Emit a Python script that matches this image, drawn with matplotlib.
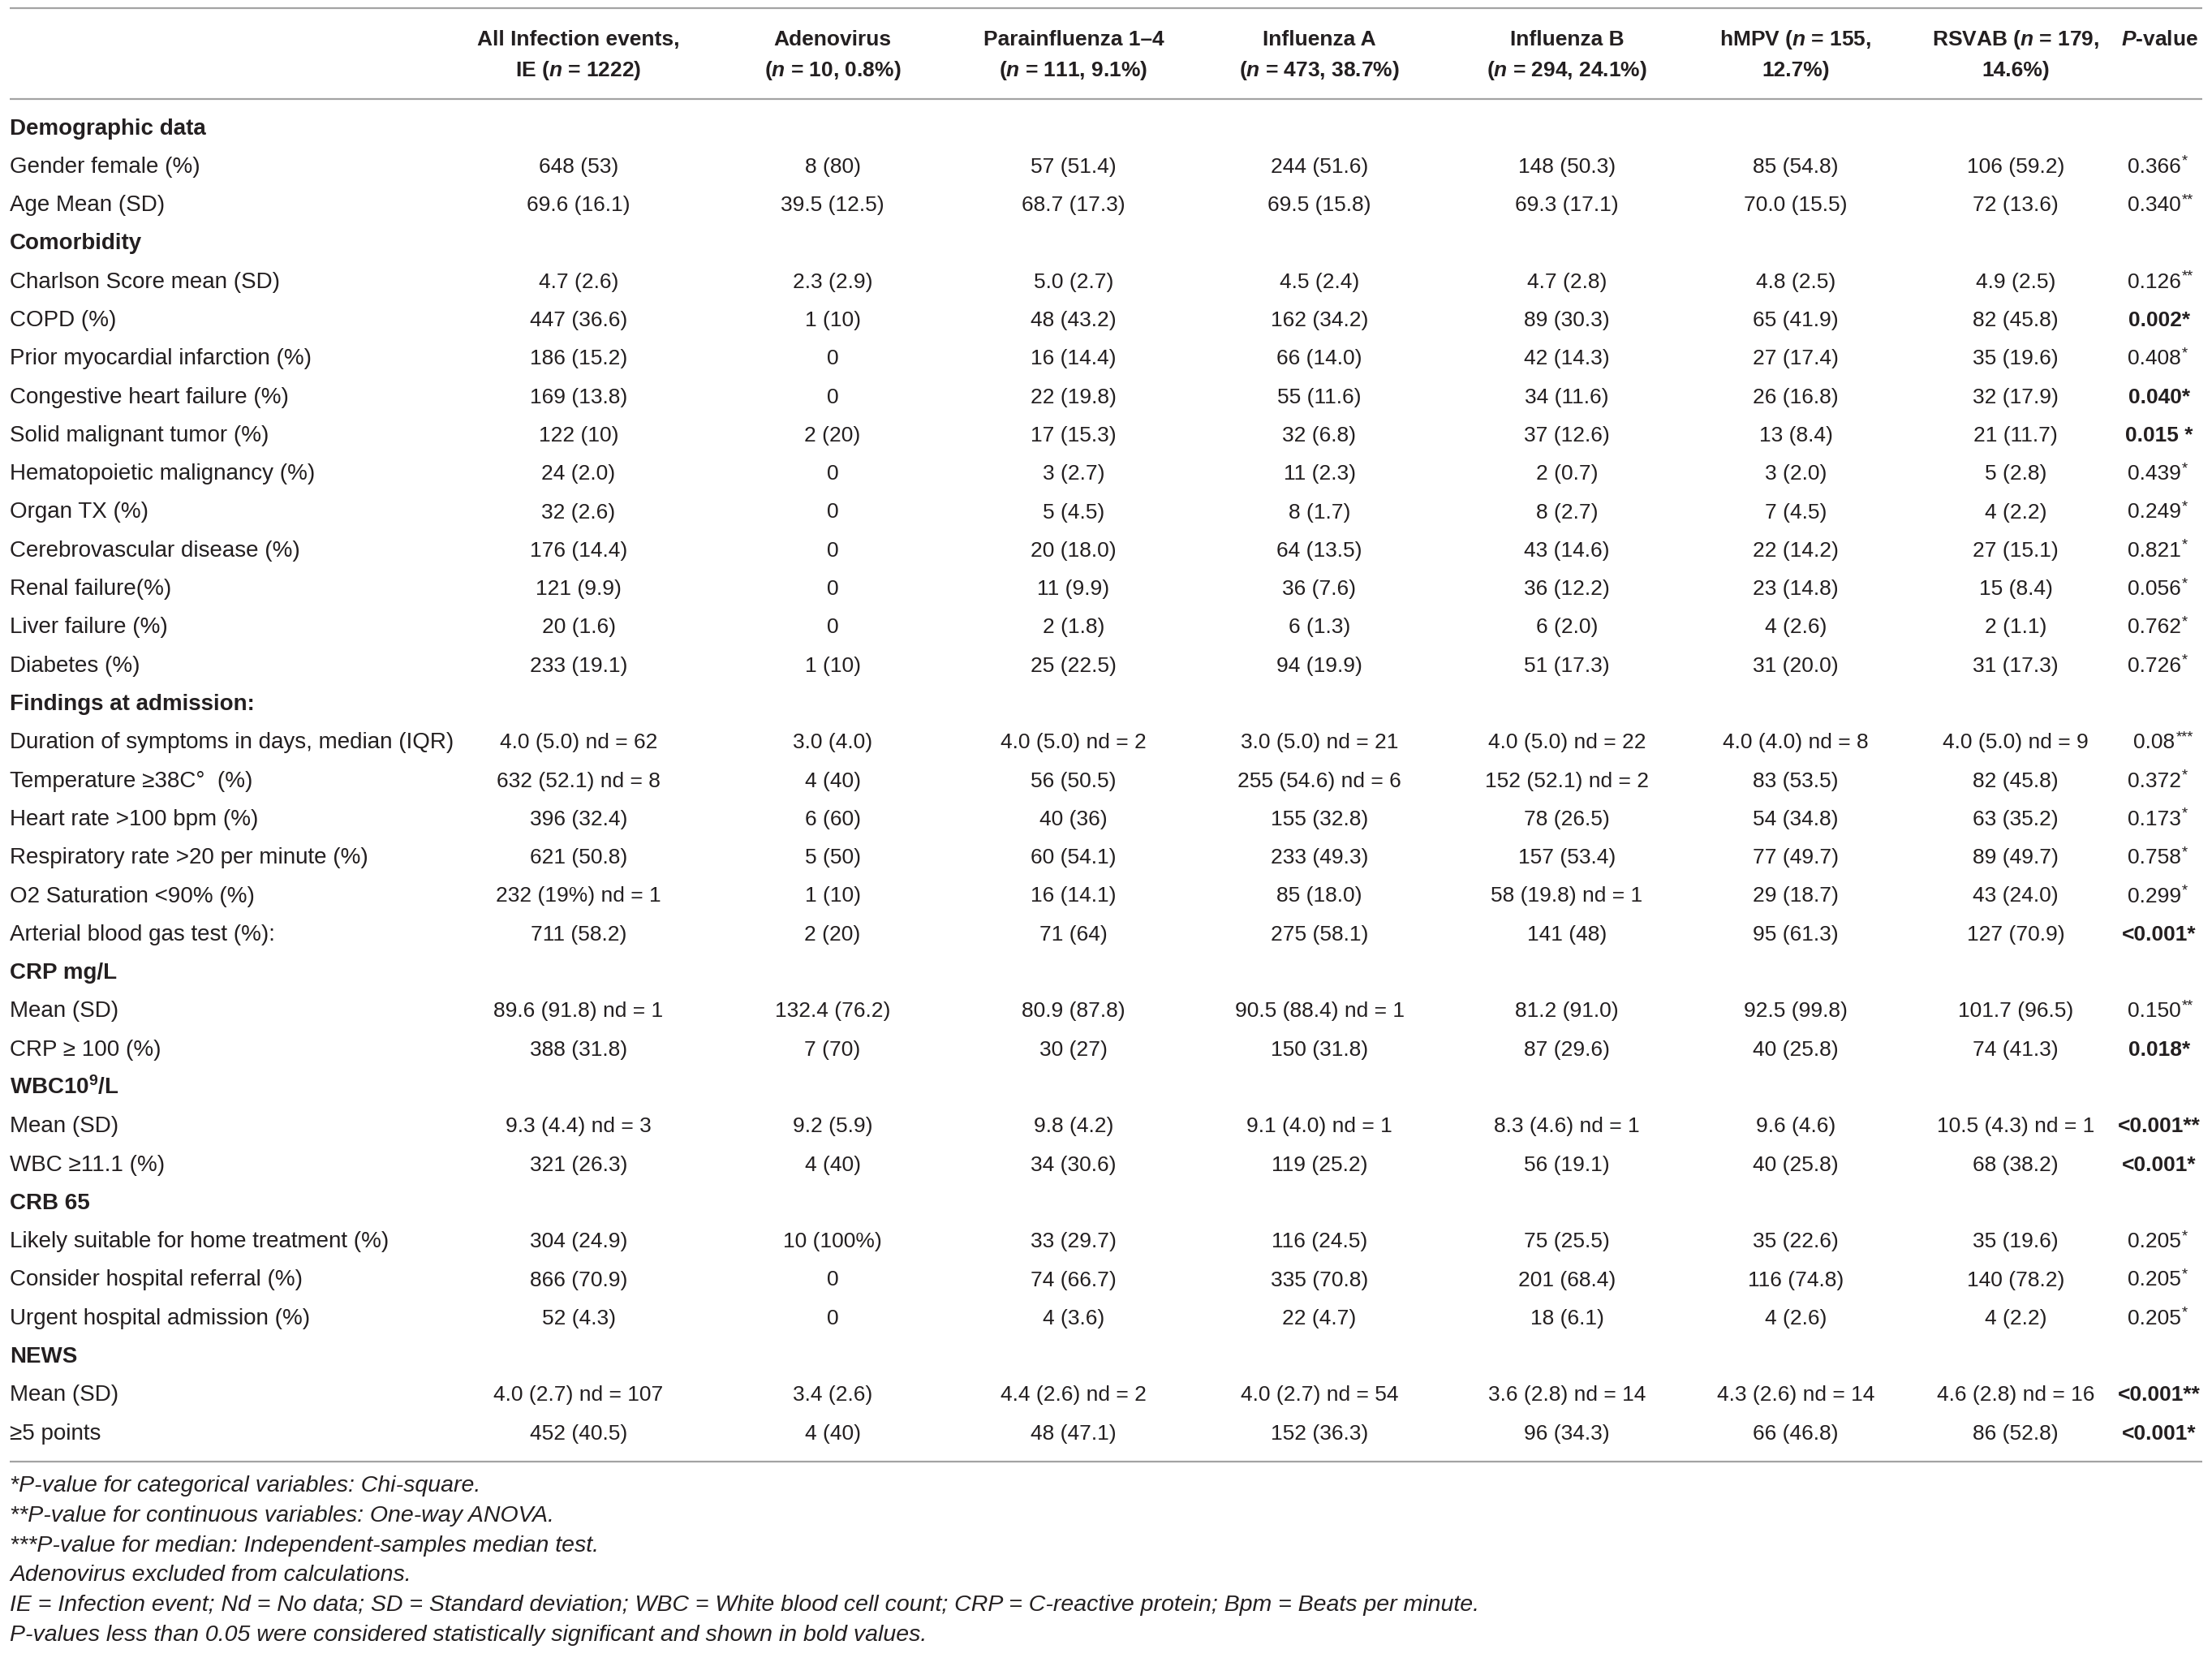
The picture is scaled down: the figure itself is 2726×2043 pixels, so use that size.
"""Recreate the respiratory virus characteristics table as a figure."""

import matplotlib
matplotlib.use('Agg')
import matplotlib.pyplot as plt

plt.rcParams['font.family'] = ['Liberation Sans', 'DejaVu Sans']
plt.rcParams['mathtext.fontset'] = 'custom'
plt.rcParams['mathtext.rm'] = 'Liberation Sans:bold'
plt.rcParams['mathtext.it'] = 'Liberation Sans:bold:italic'
plt.rcParams['mathtext.bf'] = 'Liberation Sans:bold'

# column headers (two lines each)
headers = [
    ('All Infection events,', 'IE ($n$ = 1222)'),
    ('Adenovirus', '($n$ = 10, 0.8%)'),
    ('Parainfluenza 1\u20134', '($n$ = 111, 9.1%)'),
    ('Influenza A', '($n$ = 473, 38.7%)'),
    ('Influenza B', '($n$ = 294, 24.1%)'),
    ('hMPV ($n$ = 155,', '12.7%)'),
    ('RSVAB ($n$ = 179,', '14.6%)'),
    ('$P$-value', ''),
]

# sections and number of data rows in each
sections = ['Demographic data', 'Comorbidity', 'Findings at admission:',
            'CRP mg/L', 'WBC10$^{9}$/L', 'CRB 65', 'NEWS']
section_sizes = [2, 11, 6, 2, 2, 3, 2]

row_labels = [
    'Gender female (%)', 'Age Mean (SD)',
    'Charlson Score mean (SD)', 'COPD (%)', 'Prior myocardial infarction (%)',
    'Congestive heart failure (%)', 'Solid malignant tumor (%)',
    'Hematopoietic malignancy (%)', 'Organ TX (%)', 'Cerebrovascular disease (%)',
    'Renal failure(%)', 'Liver failure (%)', 'Diabetes (%)',
    'Duration of symptoms in days, median (IQR)', 'Temperature \u226538C\u00b0  (%)',
    'Heart rate >100 bpm (%)', 'Respiratory rate >20 per minute (%)',
    'O2 Saturation <90% (%)', 'Arterial blood gas test (%):',
    'Mean (SD)', 'CRP \u2265 100 (%)',
    'Mean (SD)', 'WBC \u226511.1 (%)',
    'Likely suitable for home treatment (%)', 'Consider hospital referral (%)',
    'Urgent hospital admission (%)',
    'Mean (SD)', '\u22655 points',
]

all_ie = ['648 (53)', '69.6 (16.1)', '4.7 (2.6)', '447 (36.6)', '186 (15.2)',
          '169 (13.8)', '122 (10)', '24 (2.0)', '32 (2.6)', '176 (14.4)',
          '121 (9.9)', '20 (1.6)', '233 (19.1)', '4.0 (5.0) nd = 62',
          '632 (52.1) nd = 8', '396 (32.4)', '621 (50.8)', '232 (19%) nd = 1',
          '711 (58.2)', '89.6 (91.8) nd = 1', '388 (31.8)', '9.3 (4.4) nd = 3',
          '321 (26.3)', '304 (24.9)', '866 (70.9)', '52 (4.3)',
          '4.0 (2.7) nd = 107', '452 (40.5)']
adeno = ['8 (80)', '39.5 (12.5)', '2.3 (2.9)', '1 (10)', '0', '0', '2 (20)',
         '0', '0', '0', '0', '0', '1 (10)', '3.0 (4.0)', '4 (40)', '6 (60)',
         '5 (50)', '1 (10)', '2 (20)', '132.4 (76.2)', '7 (70)', '9.2 (5.9)',
         '4 (40)', '10 (100%)', '0', '0', '3.4 (2.6)', '4 (40)']
parainf = ['57 (51.4)', '68.7 (17.3)', '5.0 (2.7)', '48 (43.2)', '16 (14.4)',
           '22 (19.8)', '17 (15.3)', '3 (2.7)', '5 (4.5)', '20 (18.0)',
           '11 (9.9)', '2 (1.8)', '25 (22.5)', '4.0 (5.0) nd = 2', '56 (50.5)',
           '40 (36)', '60 (54.1)', '16 (14.1)', '71 (64)', '80.9 (87.8)',
           '30 (27)', '9.8 (4.2)', '34 (30.6)', '33 (29.7)', '74 (66.7)',
           '4 (3.6)', '4.4 (2.6) nd = 2', '48 (47.1)']
infl_a = ['244 (51.6)', '69.5 (15.8)', '4.5 (2.4)', '162 (34.2)', '66 (14.0)',
          '55 (11.6)', '32 (6.8)', '11 (2.3)', '8 (1.7)', '64 (13.5)',
          '36 (7.6)', '6 (1.3)', '94 (19.9)', '3.0 (5.0) nd = 21',
          '255 (54.6) nd = 6', '155 (32.8)', '233 (49.3)', '85 (18.0)',
          '275 (58.1)', '90.5 (88.4) nd = 1', '150 (31.8)', '9.1 (4.0) nd = 1',
          '119 (25.2)', '116 (24.5)', '335 (70.8)', '22 (4.7)',
          '4.0 (2.7) nd = 54', '152 (36.3)']
infl_b = ['148 (50.3)', '69.3 (17.1)', '4.7 (2.8)', '89 (30.3)', '42 (14.3)',
          '34 (11.6)', '37 (12.6)', '2 (0.7)', '8 (2.7)', '43 (14.6)',
          '36 (12.2)', '6 (2.0)', '51 (17.3)', '4.0 (5.0) nd = 22',
          '152 (52.1) nd = 2', '78 (26.5)', '157 (53.4)', '58 (19.8) nd = 1',
          '141 (48)', '81.2 (91.0)', '87 (29.6)', '8.3 (4.6) nd = 1',
          '56 (19.1)', '75 (25.5)', '201 (68.4)', '18 (6.1)',
          '3.6 (2.8) nd = 14', '96 (34.3)']
hmpv = ['85 (54.8)', '70.0 (15.5)', '4.8 (2.5)', '65 (41.9)', '27 (17.4)',
        '26 (16.8)', '13 (8.4)', '3 (2.0)', '7 (4.5)', '22 (14.2)', '23 (14.8)',
        '4 (2.6)', '31 (20.0)', '4.0 (4.0) nd = 8', '83 (53.5)', '54 (34.8)',
        '77 (49.7)', '29 (18.7)', '95 (61.3)', '92.5 (99.8)', '40 (25.8)',
        '9.6 (4.6)', '40 (25.8)', '35 (22.6)', '116 (74.8)', '4 (2.6)',
        '4.3 (2.6) nd = 14', '66 (46.8)']
rsvab = ['106 (59.2)', '72 (13.6)', '4.9 (2.5)', '82 (45.8)', '35 (19.6)',
         '32 (17.9)', '21 (11.7)', '5 (2.8)', '4 (2.2)', '27 (15.1)', '15 (8.4)',
         '2 (1.1)', '31 (17.3)', '4.0 (5.0) nd = 9', '82 (45.8)', '63 (35.2)',
         '89 (49.7)', '43 (24.0)', '127 (70.9)', '101.7 (96.5)', '74 (41.3)',
         '10.5 (4.3) nd = 1', '68 (38.2)', '35 (19.6)', '140 (78.2)', '4 (2.2)',
         '4.6 (2.8) nd = 16', '86 (52.8)']

p_values = ['0.366', '0.340', '0.126', '0.002', '0.408', '0.040', '0.015 ',
            '0.439', '0.249', '0.821', '0.056', '0.762', '0.726', '0.08',
            '0.372', '0.173', '0.758', '0.299', '<0.001', '0.150', '0.018',
            '<0.001', '<0.001', '0.205', '0.205', '0.205', '<0.001', '<0.001']
p_stars = ['*', '**', '**', '*', '*', '*', '*', '*', '*', '*', '*', '*', '*',
           '***', '*', '*', '*', '*', '*', '**', '*', '**', '*', '*', '*', '*',
           '**', '*']
p_bold = [False, False, False, True, False, True, True, False, False, False,
          False, False, False, False, False, False, False, False, True, False,
          True, True, True, False, False, False, True, True]

footnotes = [
    '*P-value for categorical variables: Chi-square.',
    '**P-value for continuous variables: One-way ANOVA.',
    '***P-value for median: Independent-samples median test.',
    'Adenovirus excluded from calculations.',
    'IE = Infection event; Nd = No data; SD = Standard deviation; WBC = White blood cell count; '
    'CRP = C-reactive protein; Bpm = Beats per minute.',
    'P-values less than 0.05 were considered statistically significant and shown in bold values.',
]

W, H = 2726, 2043
TXT = '#231f20'
LINE = '#a3a3a3'
FS = 19        # numbers and headers
FS_LAB = 20    # row labels
FS_NOTE = 20.5

col_x = [713, 1026, 1323, 1626, 1931, 2213, 2484, 2661]
columns = [all_ie, adeno, parainf, infl_a, infl_b, hmpv, rsvab]

fig = plt.figure(figsize=(W / 100, H / 100), dpi=100)
ax = fig.add_axes([0, 0, 1, 1])
ax.set_xlim(0, W)
ax.set_ylim(H, 0)
ax.axis('off')
renderer = fig.canvas.get_renderer()

left, right = 12, 2714
base = 9  # baseline offset from row centre

for y in (10, 122, 1801):
    ax.plot([left, right], [y, y], color=LINE, lw=1.6, solid_capstyle='butt')

# header
for x, (l1, l2) in zip(col_x, headers):
    ax.text(x, 47 + base, l1, ha='center', va='baseline', fontsize=FS,
            fontweight='bold', color=TXT)
    if l2:
        ax.text(x, 85 + base, l2, ha='center', va='baseline', fontsize=FS,
                fontweight='bold', color=TXT)

# body
y0, dy = 156.5, 47.3
row = 0
k = 0
for sec, n in zip(sections, section_sizes):
    y = y0 + row * dy
    ax.text(left, y + base, sec, ha='left', va='baseline', fontsize=FS_LAB,
            fontweight='bold', color=TXT)
    row += 1
    for _ in range(n):
        y = y0 + row * dy
        ax.text(left, y + base, row_labels[k], ha='left', va='baseline',
                fontsize=FS_LAB, color=TXT)
        for x, col in zip(col_x, columns):
            ax.text(x, y + base, col[k], ha='center', va='baseline',
                    fontsize=FS, color=TXT)
        # p-value with stars
        if p_bold[k]:
            ax.text(col_x[-1], y + base, p_values[k] + p_stars[k], ha='center',
                    va='baseline', fontsize=FS, fontweight='bold', color=TXT)
        else:
            t = ax.text(col_x[-1] - 6, y + base, p_values[k], ha='center',
                        va='baseline', fontsize=FS, color=TXT)
            bb = t.get_window_extent(renderer)
            ax.text(bb.x1 + 1, y + base - 9, p_stars[k], ha='left',
                    va='baseline', fontsize=FS * 0.7, color=TXT)
        row += 1
        k += 1

# footnotes
for i, note in enumerate(footnotes):
    ax.text(left, 1829 + i * 36.8 + base, note, ha='left', va='baseline',
            fontsize=FS_NOTE, fontstyle='italic', color=TXT)

fig.savefig('out.png', dpi=100, facecolor='white')
plt.close(fig)
